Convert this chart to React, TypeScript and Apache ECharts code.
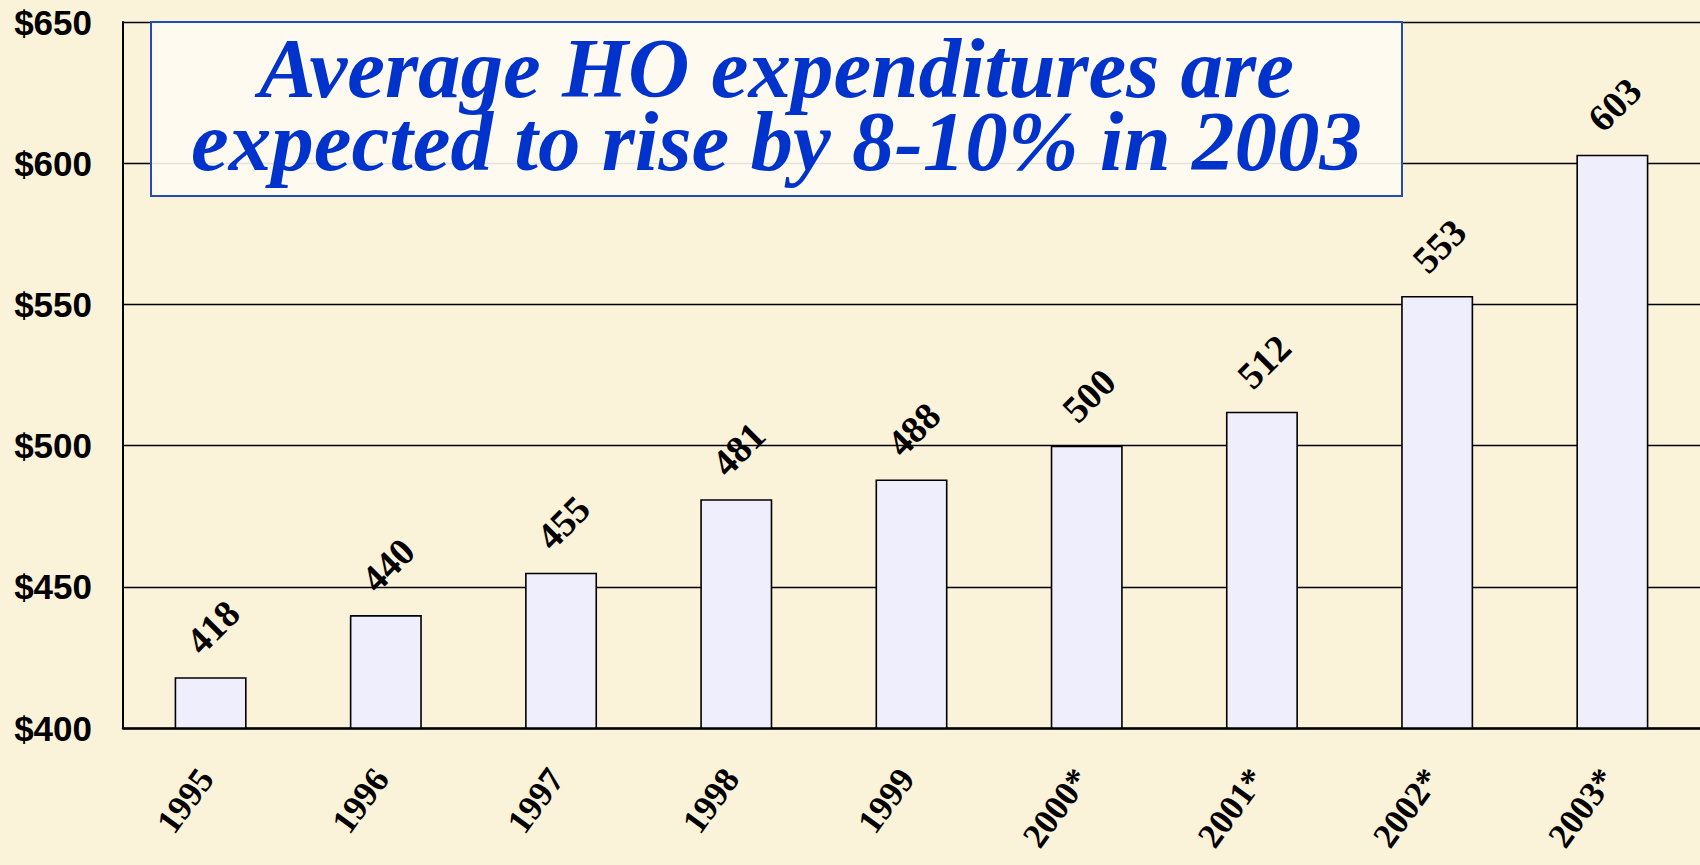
import React, { useEffect, useRef } from "react";
import * as echarts from "echarts";

const categories = ["1995", "1996", "1997", "1998", "1999", "2000*", "2001*", "2002*", "2003*"];
const expenditures = [418, 440, 455, 481, 488, 500, 512, 553, 603];
const yMin = 400;
const yMax = 650;
const yStep = 50;
const titleLines = ["Average HO expenditures are", "expected to rise by 8-10% in 2003"];

export default function App() {
  const ref = useRef<HTMLDivElement>(null);

  useEffect(() => {
    document.body.style.margin = "0";
    if (!ref.current) return;
    const chart = echarts.init(ref.current, undefined, { renderer: "svg" });
    const serif = '"Liberation Serif", "Times New Roman", serif';
    const sans = '"Liberation Sans", Arial, sans-serif';
    chart.setOption({
      animation: false,
      backgroundColor: "#fbf2da",
      grid: {
        left: 123,
        right: 0,
        top: 22,
        bottom: 137,
        containLabel: false,
        outerBoundsMode: "none",
      },
      xAxis: {
        type: "category",
        data: categories,
        axisLine: { show: true, lineStyle: { color: "#000", width: 2.5 } },
        axisTick: { show: false },
        axisLabel: {
          rotate: 54,
          margin: 38,
          padding: [0, 8, 0, 0],
          fontFamily: serif,
          fontWeight: "bold",
          fontSize: 35,
          color: "#000",
        },
      },
      yAxis: {
        type: "value",
        min: yMin,
        max: yMax,
        interval: yStep,
        axisLine: { show: true, lineStyle: { color: "#000", width: 2 } },
        axisTick: { show: false },
        splitLine: { show: true, lineStyle: { color: "#000", width: 1.3 } },
        axisLabel: {
          formatter: "${value}",
          fontFamily: sans,
          fontWeight: "bold",
          fontSize: 35,
          color: "#000",
          margin: 31,
        },
      },
      series: [
        {
          type: "bar",
          data: expenditures,
          barWidth: 72,
          itemStyle: { color: "#eeeefc", borderColor: "#000", borderWidth: 1.6 },
          label: {
            show: true,
            position: "top",
            distance: 48,
            rotate: 45,
            align: "center",
            verticalAlign: "middle",
            offset: [3, 0],
            fontFamily: serif,
            fontWeight: "bold",
            fontSize: 38,
            color: "#000",
          },
        },
      ],
      graphic: [
        {
          type: "rect",
          z: 100,
          shape: { x: 151, y: 22, width: 1251, height: 174 },
          style: { fill: "rgba(254,251,242,0.9)", stroke: "#1e4db7", lineWidth: 2 },
        },
        {
          type: "text",
          z: 101,
          x: 776.5,
          y: 104.5,
          style: {
            text: titleLines.join("\n"),
            fontFamily: serif,
            fontStyle: "italic",
            fontWeight: "bold",
            fontSize: 85,
            lineHeight: 73,
            fill: "#0033cc",
            align: "center",
            verticalAlign: "middle",
          },
        },
      ],
    });
    return () => chart.dispose();
  }, []);

  return <div ref={ref} style={{ width: 1700, height: 865 }} />;
}
